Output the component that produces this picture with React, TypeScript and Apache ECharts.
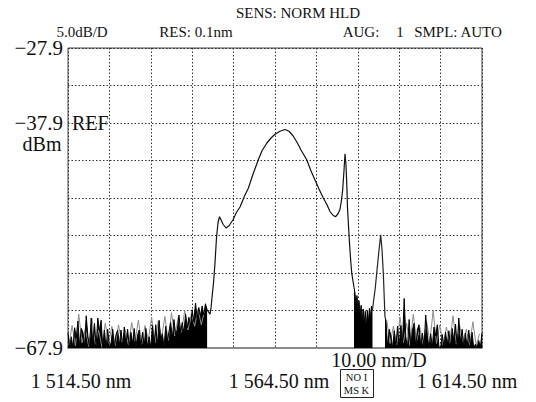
import React, { useEffect, useRef } from "react";
import * as echarts from "echarts";

// Axis ranges
const WL_MIN = 1514.5;
const WL_MAX = 1614.5;
const DB_MIN = -67.9;
const DB_MAX = -27.9;
const yLabelValues = [-67.9, -37.9, -27.9];
const xLabels = ["1 514.50 nm", "1 564.50 nm", "1 614.50 nm"];

// Left noise floor (start 1514.5 nm, 0.4 nm spacing)
const leftNoiseStart = 1514.5;
const leftNoiseStep = 0.4;
const leftNoiseDb = [
  -65.9, -67.8, -66.4, -67.9, -65.2, -66.6, -64.3, -67.7, -65.3, -65.8,
  -67.6, -63.6, -66.3, -67.8, -63.9, -67.4, -64.6, -67.7, -63.9, -65.6,
  -64.2, -67.8, -65.5, -67.9, -65.4, -67.9, -67.2, -65.4, -67.8, -66.1,
  -65.5, -67.6, -65.5, -67.7, -65.1, -67.5, -65.4, -67.8, -65.8, -67.3,
  -65.3, -67.8, -66.2, -65.5, -67.7, -65.8, -67.6, -65.3, -67.8, -66.4,
  -67.9, -64.9, -67.5, -64.8, -67.6, -64.2, -66.8, -66.0, -67.8, -65.0,
  -66.9, -65.7, -64.5, -66.6, -64.1, -66.2, -65.4, -63.5, -65.8, -64.5,
  -65.9, -63.4, -65.2, -63.8, -64.9, -62.8, -64.4, -61.9, -63.9, -62.5,
  -63.6, -62.3, -63.5, -62.0, -62.8,
];

// Second (grey) trace of the left noise (start 1514.7 nm, 0.8 nm spacing)
const leftGrayStart = 1514.7;
const leftGrayStep = 0.8;
const leftGrayDb = [
  -67.5, -64.9, -67.6, -63.4, -67.2, -65.3, -67.7, -64.0, -67.4, -65.5,
  -67.8, -64.6, -67.3, -65.0, -67.6, -64.8, -67.1, -65.4, -67.5, -64.5,
  -67.0, -64.2, -67.4, -64.9, -66.8, -63.8, -67.2, -64.3, -66.5, -63.7,
  -66.9, -63.2, -66.3, -63.9, -65.8, -62.9, -65.5, -63.3, -65.0, -62.7,
  -64.8, -62.9,
];

// Main spectrum
const mainWl = [
  1548.8, 1549.04, 1549.28, 1549.65, 1550.0, 1550.37, 1550.73, 1551.1, 1551.46, 1551.94,
  1552.66, 1553.39, 1554.36, 1555.2, 1556.05, 1557.0, 1558.05, 1559.2, 1560.47, 1561.36,
  1562.5, 1563.53, 1564.5, 1565.7, 1566.92, 1567.88, 1568.85, 1569.74, 1570.78, 1572.16,
  1573.2, 1574.16, 1575.13, 1576.17, 1577.06, 1577.78, 1578.5, 1579.11, 1579.72, 1580.2,
  1580.56, 1580.85, 1581.17, 1581.41, 1581.65, 1581.89, 1582.0, 1582.45, 1582.74, 1583.03,
  1583.58,
];
const mainDb = [
  -63.4, -62.6, -61.2, -59.2, -56.6, -53.2, -51.2, -50.4, -50.8, -51.4,
  -51.9, -51.6, -50.8, -49.8, -49.1, -47.8, -46.6, -44.7, -42.8, -41.6,
  -40.6, -39.9, -39.4, -39.0, -38.77, -39.0, -39.6, -40.4, -41.5, -42.8,
  -44.3, -45.5, -46.7, -47.9, -48.8, -49.7, -50.2, -50.4, -50.0, -49.4,
  -48.2, -46.8, -44.2, -42.0, -43.5, -46.8, -49.1, -53.5, -55.9, -57.9,
  -59.8,
];

// Noisy gap between the main band and the side peak (start 1583.8 nm, 0.25 nm spacing)
const midNoiseStart = 1583.8;
const midNoiseStep = 0.25;
const midNoiseDb = [
  -60.5, -62.0, -60.9, -62.8, -61.6, -63.6, -62.2, -64.3, -62.7, -64.8,
  -63.0, -65.2, -62.9, -64.6, -62.6, -63.9, -62.3, -62.8,
];

// Side peak
const peak2Wl = [1588.25, 1588.7, 1589.07, 1589.5, 1590.03, 1590.35, 1590.66, 1591.07];
const peak2Db = [-61.9, -60.0, -57.9, -55.5, -52.8, -54.8, -57.9, -63.8];

// Right noise floor (start 1591.3 nm, 0.4 nm spacing)
const rightNoiseStart = 1591.3;
const rightNoiseStep = 0.4;
const rightNoiseDb = [
  -64.2, -67.8, -65.4, -66.3, -67.9, -65.6, -67.7, -65.0, -67.8, -64.9,
  -67.4, -61.3, -66.4, -67.9, -64.1, -67.6, -65.5, -64.6, -67.8, -65.4,
  -64.8, -67.7, -65.9, -67.8, -63.5, -66.2, -67.9, -66.0, -67.8, -65.1,
  -66.3, -64.8, -67.7, -67.9, -66.1, -67.8, -65.8, -67.5, -65.6, -67.8,
  -65.3, -66.9, -64.7, -67.6, -63.9, -67.2, -65.4, -67.8, -65.9, -67.9,
  -65.5, -67.5, -65.8, -67.9, -67.4, -67.9, -66.9, -67.8, -65.9,
];

// Grey trace of the right noise (start 1591.5 nm, 0.8 nm spacing)
const rightGrayStart = 1591.5;
const rightGrayStep = 0.8;
const rightGrayDb = [
  -64.2, -67.3, -65.0, -67.5, -63.8, -67.2, -64.6, -67.6, -63.4, -67.0,
  -65.2, -67.4, -64.3, -67.1, -62.9, -67.3, -64.8, -67.5, -65.1, -67.2,
  -63.6, -67.4, -64.9, -67.0, -65.4, -67.5, -64.4, -67.6, -66.0,
];

const FONT = '"Liberation Serif", "Times New Roman", serif';

const pt = (wl: number, db: number) => [wl - WL_MIN, db - DB_MIN];
const evenly = (start: number, step: number, vals: number[]) =>
  vals.map((v, i) => pt(start + i * step, v));
const pairs = (wl: number[], db: number[]) => wl.map((w, i) => pt(w, db[i]));

export default function App() {
  const ref = useRef<HTMLDivElement>(null);
  useEffect(() => {
    if (!ref.current) return;
    const chart = echarts.init(ref.current, undefined, { renderer: "svg" });

    const leftNoise = evenly(leftNoiseStart, leftNoiseStep, leftNoiseDb);
    const main = pairs(mainWl, mainDb);
    const mid = evenly(midNoiseStart, midNoiseStep, midNoiseDb);
    const p2 = pairs(peak2Wl, peak2Db);
    const rightNoise = evenly(rightNoiseStart, rightNoiseStep, rightNoiseDb);
    const leftGray = evenly(leftGrayStart, leftGrayStep, leftGrayDb);
    const rightGray = evenly(rightGrayStart, rightGrayStep, rightGrayDb);

    const base = {
      type: "line" as const,
      showSymbol: false,
      symbol: "none",
      silent: true,
      clip: true,
    };
    const fill = { color: "#000", opacity: 1, origin: "start" as const };

    const text = (
      t: string,
      x: number,
      y: number,
      size: number,
      align = "center"
    ) => ({
      type: "text",
      x,
      y,
      silent: true,
      style: {
        text: t,
        fontSize: size,
        fontFamily: FONT,
        fill: "#111",
        align,
        verticalAlign: "middle",
      },
    });

    const gridLine = { color: "#333", width: 1, type: [1.5, 2] };

    chart.setOption({
      animation: false,
      backgroundColor: "#fff",
      grid: {
        left: 68,
        top: 48,
        width: 414,
        height: 300,
        show: true,
        borderColor: "#444",
        borderWidth: 1,
        backgroundColor: "transparent",
      },
      xAxis: {
        type: "value",
        min: 0,
        max: WL_MAX - WL_MIN,
        interval: 10,
        axisLabel: { show: false },
        axisTick: { show: false },
        axisLine: { show: true, onZero: false, lineStyle: { color: "#8a8a8a", width: 2 } },
        splitLine: { show: true, lineStyle: gridLine },
      },
      yAxis: {
        type: "value",
        min: 0,
        max: DB_MAX - DB_MIN,
        interval: 5,
        axisTick: { show: false },
        axisLine: { show: false },
        splitLine: { show: true, lineStyle: gridLine },
        axisLabel: {
          show: true,
          margin: 5,
          fontSize: 21,
          fontFamily: FONT,
          color: "#111",
          formatter: (v: number) => {
            const db = v + DB_MIN;
            const hit = yLabelValues.find((l) => Math.abs(l - db) < 0.01);
            return hit === undefined ? "" : "\u2212" + Math.abs(hit).toFixed(1);
          },
        },
      },
      series: [
        { ...base, data: leftGray, lineStyle: { color: "#8c8c8c", width: 1 } },
        { ...base, data: rightGray, lineStyle: { color: "#8c8c8c", width: 1 } },
        { ...base, data: leftNoise, lineStyle: { color: "#000", width: 1 }, areaStyle: fill },
        {
          ...base,
          data: [leftNoise[leftNoise.length - 1], ...main],
          lineStyle: { color: "#111", width: 1.2 },
        },
        {
          ...base,
          data: [main[main.length - 1], ...mid],
          lineStyle: { color: "#000", width: 1 },
          areaStyle: fill,
        },
        {
          ...base,
          data: [mid[mid.length - 1], ...p2],
          lineStyle: { color: "#222", width: 1.2 },
        },
        {
          ...base,
          data: [p2[p2.length - 1], ...rightNoise],
          lineStyle: { color: "#000", width: 1 },
          areaStyle: fill,
        },
      ],
      graphic: [
        text("SENS: NORM HLD", 298, 13, 15),
        text("5.0dB/D", 82, 32, 15),
        text("RES: 0.1nm", 196, 32, 15),
        text("AUG:", 361, 32, 15),
        text("1", 400, 32, 15),
        text("SMPL: AUTO", 458, 32, 15),
        text("REF", 72, 123, 20, "left"),
        text("dBm", 42, 144, 20),
        text("10.00 nm/D", 379, 360, 20),
        text(xLabels[0], 81, 381, 20),
        text(xLabels[1], 279, 381, 20),
        text(xLabels[2], 467, 381, 20),
        {
          type: "rect",
          silent: true,
          shape: { x: 340.5, y: 369.5, width: 33, height: 28 },
          style: { fill: "none", stroke: "#222", lineWidth: 1 },
        },
        text("NO I", 356.5, 377, 10.5),
        text("MS K", 356.5, 390, 10.5),
      ],
    });
    return () => chart.dispose();
  }, []);
  return (
    <div
      ref={ref}
      style={{ position: "fixed", left: 0, top: 0, width: 536, height: 402, background: "#fff" }}
    />
  );
}
